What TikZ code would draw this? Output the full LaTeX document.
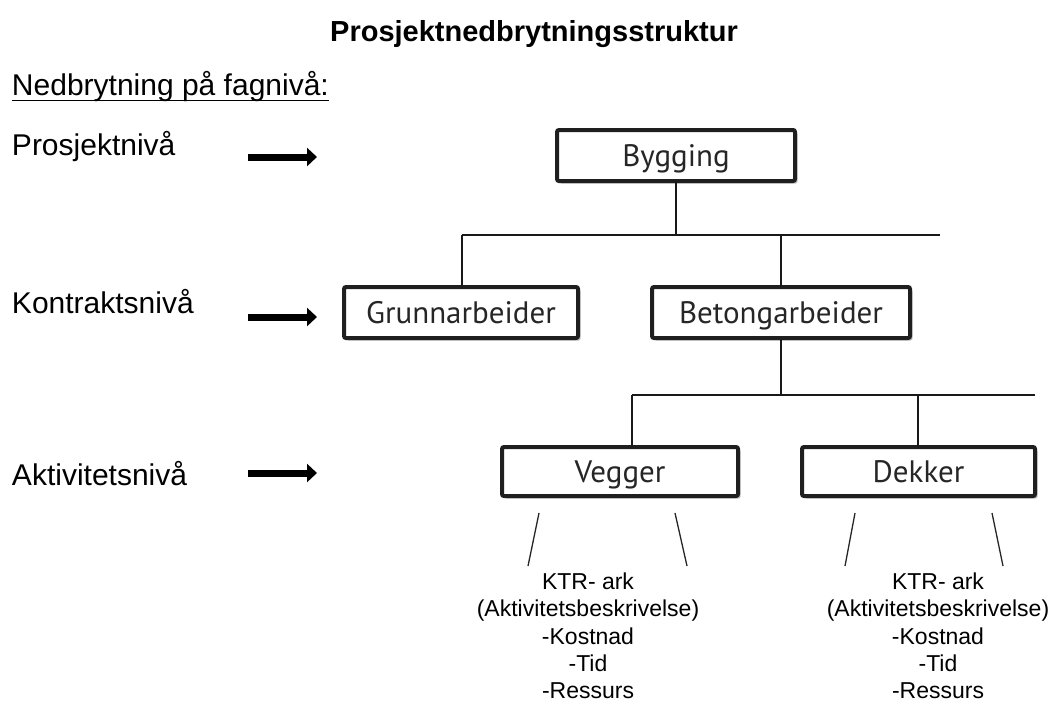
\documentclass[tikz,border=0pt]{standalone}
\usepackage{fontspec}
\setmainfont{Liberation Sans}
\newfontfamily\boxfont{PT Sans}
\usetikzlibrary{arrows.meta,shadows,calc}

\begin{document}
\begin{tikzpicture}[x=1pt,y=-1pt,
  every node/.style={inner sep=0pt, outer sep=0pt},
  lbl/.style={anchor=base west, font=\fontsize{30}{32}\selectfont},
  wbsbox/.style={draw=black!88, line width=4pt, rounded corners=2pt, fill=white,
    minimum height=51pt, text=black!85, text height=21.5pt, text depth=0pt,
    font=\boxfont\fontsize{31}{32}\selectfont,
    drop shadow={shadow xshift=2.5pt, shadow yshift=-2.5pt, opacity=0.35, fill=black!70}},
  link/.style={line width=2.6pt, draw=black!90},
  tick/.style={line width=1.3pt, draw=black!85},
  levelarrow/.style={line width=7pt, -{Triangle[length=10pt 0 0, width=18pt 0 0]}},
  notes/.style={anchor=north, align=center, font=\fontsize{23}{27.3}\selectfont}]

\useasboundingbox (0,0) rectangle (1051,702);

% headings
\node[anchor=base, font=\bfseries\fontsize{29}{30}\selectfont] (title) at (534,41) {Prosjektnedbrytningsstruktur};
\node[lbl] (sub) at (12,95) {Nedbrytning på fagnivå:};
\draw[line width=1.4pt] ($(sub.base west)+(0,5.5)$) -- ($(sub.base east)+(0,5.5)$);

% level labels with arrows
\node[lbl] (lvlA) at (12,155) {Prosjektnivå};
\node[lbl] (lvlB) at (12,313) {Kontraktsnivå};
\node[lbl] (lvlC) at (12,485) {Aktivitetsnivå};
\coordinate (a1s) at (248,157); \coordinate (a1e) at (317,157);
\coordinate (a2s) at (248,317); \coordinate (a2e) at (317,317);
\coordinate (a3s) at (248,473); \coordinate (a3e) at (317,473);
\draw[levelarrow] (a1s) -- (a1e);
\draw[levelarrow] (a2s) -- (a2e);
\draw[levelarrow] (a3s) -- (a3e);

% breakdown boxes
\node[wbsbox, minimum width=238pt] (byg) at (676,155.5) {Bygging};
\node[wbsbox, minimum width=234pt] (grunn) at (461,312.5) {Grunnarbeider};
\node[wbsbox, minimum width=258pt] (betong) at (781,312.5) {Betongarbeider};
\node[wbsbox, minimum width=236pt, minimum height=49pt] (vegg) at (620,471.5) {Vegger};
\node[wbsbox, minimum width=233pt, minimum height=49pt] (dekk) at (918.5,471.5) {Dekker};

% first level bus
\coordinate (busAL) at (462,235);
\coordinate (busAR) at (940,235);
\coordinate (busAm) at (781,235);
\draw[link] (byg.south) -- (byg.south |- busAL);
\draw[link] (busAL) -- (busAR);
\draw[link] (busAL) -- (busAL |- grunn.north);
\draw[link] (busAm) -- (betong.north);

% second level bus
\coordinate (busBL) at (632,395);
\coordinate (busBR) at (1035,395);
\coordinate (busBm) at (918,395);
\draw[link] (betong.south) -- (betong.south |- busBL);
\draw[link] (busBL) -- (busBR);
\draw[link] (busBL) -- (busBL |- vegg.north);
\draw[link] (busBm) -- (busBm |- dekk.north);

% activity descriptions
\node[notes] (nv) at (588,573) {KTR- ark\\(Aktivitetsbeskrivelse)\\-Kostnad\\-Tid\\-Ressurs};
\node[notes] (nd) at (938,573) {KTR- ark\\(Aktivitetsbeskrivelse)\\-Kostnad\\-Tid\\-Ressurs};

\coordinate (v1a) at (539,513); \coordinate (v1b) at (528,566);
\coordinate (v2a) at (675,513); \coordinate (v2b) at (687,566);
\coordinate (d1a) at (855,513); \coordinate (d1b) at (845,566);
\coordinate (d2a) at (992,513); \coordinate (d2b) at (1003,566);
\draw[tick] (v1a) -- (v1b);
\draw[tick] (v2a) -- (v2b);
\draw[tick] (d1a) -- (d1b);
\draw[tick] (d2a) -- (d2b);

\end{tikzpicture}
\end{document}
